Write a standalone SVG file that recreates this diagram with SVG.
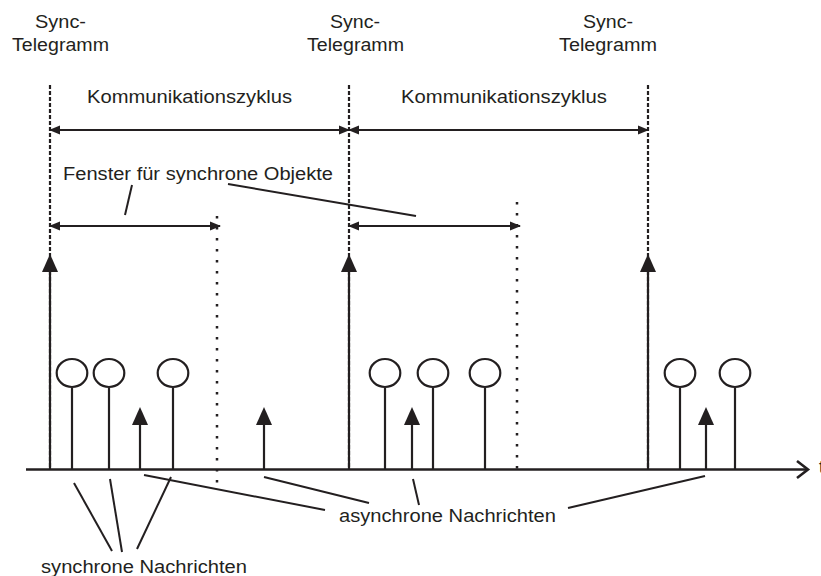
<svg xmlns="http://www.w3.org/2000/svg" width="821" height="576" viewBox="0 0 821 576">
  <style>
    .lbl { font-family: "Liberation Sans", Arial, sans-serif; font-size: 17.5px; fill: #231f20; }
    .ln { stroke: #231f20; stroke-width: 2; fill: none; }
    .dash { stroke: #231f20; stroke-width: 2.2; stroke-dasharray: 4 2; fill: none; }
    .dot { stroke: #231f20; stroke-width: 2.5; stroke-dasharray: 2.5 8.5; fill: none; }
    .axis { stroke: #231f20; stroke-width: 2.6; fill: none; }
    .lolli { stroke: #231f20; stroke-width: 2.2; fill: #fff; }
    .stem { stroke: #231f20; stroke-width: 2.2; fill: none; }
  </style>
  <defs>
    <marker id="dimHead" markerUnits="userSpaceOnUse" viewBox="0 0 11 10" markerWidth="11" markerHeight="10" refX="10" refY="5" orient="auto-start-reverse">
      <path d="M0,0.5 L11,5 L0,9.5 z" fill="#231f20"/>
    </marker>
    <marker id="upHead" markerUnits="userSpaceOnUse" viewBox="0 0 18 16" markerWidth="18" markerHeight="16" refX="2" refY="8" orient="auto">
      <path d="M0,0 L18,8 L0,16 z" fill="#231f20"/>
    </marker>
  </defs>

  <!-- time axis -->
  <g id="axis">
    <line class="axis" x1="26" y1="469.5" x2="808" y2="469.5"/>
    <polyline class="axis" points="797,461 808,469.5 797,478"/>
    <text class="lbl" x="819" y="473">t</text>
  </g>

  <!-- sync telegram markers -->
  <g id="sync1">
    <text class="lbl" x="35" y="28" textLength="51" lengthAdjust="spacingAndGlyphs">Sync-</text>
    <text class="lbl" x="12" y="51" textLength="97" lengthAdjust="spacingAndGlyphs">Telegramm</text>
    <line class="dash" x1="50" y1="85" x2="50" y2="469"/>
    <line class="stem" x1="50" y1="469" x2="50" y2="270" marker-end="url(#upHead)"/>
  </g>
  <g id="sync2">
    <text class="lbl" x="330" y="28" textLength="50" lengthAdjust="spacingAndGlyphs">Sync-</text>
    <text class="lbl" x="307" y="51" textLength="97" lengthAdjust="spacingAndGlyphs">Telegramm</text>
    <line class="dash" x1="349" y1="85" x2="349" y2="469"/>
    <line class="stem" x1="349" y1="469" x2="349" y2="270" marker-end="url(#upHead)"/>
  </g>
  <g id="sync3">
    <text class="lbl" x="583" y="28" textLength="50" lengthAdjust="spacingAndGlyphs">Sync-</text>
    <text class="lbl" x="559" y="51" textLength="98" lengthAdjust="spacingAndGlyphs">Telegramm</text>
    <line class="dash" x1="648" y1="85" x2="648" y2="469"/>
    <line class="stem" x1="648" y1="469" x2="648" y2="270" marker-end="url(#upHead)"/>
  </g>

  <!-- window ends -->
  <g id="window-end1">
    <line class="dot" x1="217" y1="216" x2="217" y2="486"/>
  </g>
  <g id="window-end2">
    <line class="dot" x1="517" y1="202" x2="517" y2="470"/>
  </g>

  <!-- cycle and window dimensions -->
  <g id="cycle1">
    <text class="lbl" x="87" y="103" textLength="205" lengthAdjust="spacingAndGlyphs">Kommunikationszyklus</text>
  </g>
  <g id="cycle2">
    <text class="lbl" x="401" y="103" textLength="206" lengthAdjust="spacingAndGlyphs">Kommunikationszyklus</text>
  </g>
  <g id="window-label">
    <text class="lbl" x="63" y="180" textLength="270" lengthAdjust="spacingAndGlyphs">Fenster für synchrone Objekte</text>
  </g>

  <!-- synchronous messages -->
  <g id="sync-msgs">
    <line class="stem" x1="72" y1="388" x2="72" y2="469"/>
    <ellipse class="lolli" cx="72" cy="373" rx="15.3" ry="14"/>
    <line class="stem" x1="109" y1="388" x2="109" y2="469"/>
    <ellipse class="lolli" cx="109" cy="373" rx="15.3" ry="14"/>
    <line class="stem" x1="173" y1="388" x2="173" y2="469"/>
    <ellipse class="lolli" cx="173" cy="373" rx="15.3" ry="14"/>
    <line class="stem" x1="385" y1="388" x2="385" y2="469"/>
    <ellipse class="lolli" cx="385" cy="373" rx="15.3" ry="14"/>
    <line class="stem" x1="433" y1="388" x2="433" y2="469"/>
    <ellipse class="lolli" cx="433" cy="373" rx="15.3" ry="14"/>
    <line class="stem" x1="485" y1="388" x2="485" y2="469"/>
    <ellipse class="lolli" cx="485" cy="373" rx="15.3" ry="14"/>
    <line class="stem" x1="680" y1="388" x2="680" y2="469"/>
    <ellipse class="lolli" cx="680" cy="373" rx="15.3" ry="14"/>
    <line class="stem" x1="735" y1="388" x2="735" y2="469"/>
    <ellipse class="lolli" cx="735" cy="373" rx="15.3" ry="14"/>
  </g>

  <!-- asynchronous messages -->
  <g id="async-msgs">
    <line class="stem" x1="140" y1="469" x2="140" y2="423" marker-end="url(#upHead)"/>
    <line class="stem" x1="264" y1="469" x2="264" y2="423" marker-end="url(#upHead)"/>
    <line class="stem" x1="412" y1="469" x2="412" y2="423" marker-end="url(#upHead)"/>
    <line class="stem" x1="706" y1="469" x2="706" y2="423" marker-end="url(#upHead)"/>
  </g>

  <g id="sync-label">
    <text class="lbl" x="41" y="573" textLength="206" lengthAdjust="spacingAndGlyphs">synchrone Nachrichten</text>
  </g>
  <g id="async-label">
    <text class="lbl" x="339" y="522" textLength="217" lengthAdjust="spacingAndGlyphs">asynchrone Nachrichten</text>
  </g>

  <!-- connectors: dimension arrows and leader lines -->
  <g id="connectors">
    <line class="ln" x1="50" y1="130" x2="349" y2="130" marker-start="url(#dimHead)" marker-end="url(#dimHead)"/>
    <line class="ln" x1="349" y1="130" x2="648" y2="130" marker-start="url(#dimHead)" marker-end="url(#dimHead)"/>
    <line class="ln" x1="50" y1="226" x2="220" y2="226" marker-start="url(#dimHead)" marker-end="url(#dimHead)"/>
    <line class="ln" x1="349" y1="226" x2="520" y2="226" marker-start="url(#dimHead)" marker-end="url(#dimHead)"/>

    <line class="ln" x1="132" y1="185" x2="125" y2="215"/>
    <line class="ln" x1="228" y1="184" x2="416" y2="216"/>

    <line class="ln" x1="74" y1="483" x2="112" y2="551"/>
    <line class="ln" x1="110" y1="479" x2="122" y2="552"/>
    <line class="ln" x1="171" y1="477" x2="137" y2="549"/>

    <line class="ln" x1="144" y1="475" x2="325" y2="510"/>
    <line class="ln" x1="264" y1="477" x2="369" y2="503"/>
    <line class="ln" x1="413" y1="479" x2="419" y2="505"/>
    <line class="ln" x1="568" y1="508" x2="705" y2="476"/>
  </g>
</svg>
